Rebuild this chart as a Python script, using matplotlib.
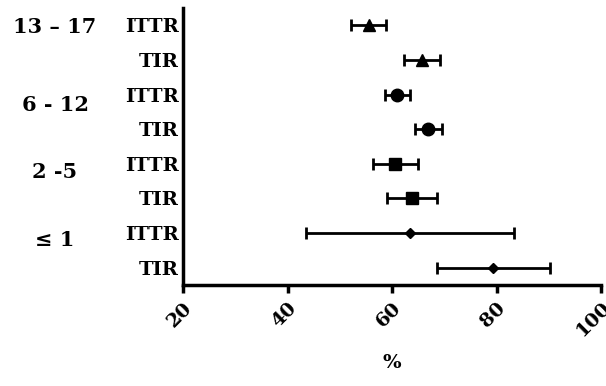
import numpy as np
import matplotlib.pyplot as plt

# rows from top to bottom
row_labels = ["ITTR", "TIR", "ITTR", "TIR", "ITTR", "TIR", "ITTR", "TIR"]
mean = [55.5, 65.7, 61.0, 66.9, 60.5, 63.8, 63.4, 79.3]
lower = [52.2, 62.2, 58.7, 64.4, 56.4, 59.0, 43.5, 68.6]
upper = [58.8, 69.1, 63.5, 69.6, 64.9, 68.6, 83.3, 90.2]
markers = ["^", "^", "o", "o", "s", "s", "D", "D"]
msizes = [8, 8, 9, 9, 8, 8, 5, 5]

groups = ["13 \u2013 17", "6 - 12", "2 -5", "\u2264 1"]
group_pos = [0.05, 2.3, 4.25, 6.2]

xticks = [20, 40, 60, 80, 100]

plt.rcParams['font.family'] = ['DejaVu Serif']
plt.rcParams['font.weight'] = 'bold'

fig = plt.figure(figsize=(6.06, 3.86), dpi=100)
ax = fig.add_axes([0.302, 0.262, 0.690, 0.717])

y = np.arange(len(mean))
for i in range(len(mean)):
    ax.errorbar(mean[i], y[i],
                xerr=[[mean[i] - lower[i]], [upper[i] - mean[i]]],
                fmt=markers[i], color='black', ms=msizes[i],
                ecolor='black', elinewidth=2, capsize=4.5, capthick=2)

ax.set_xlim(20, 100)
ax.set_ylim(7.5, -0.5)
ax.set_xticks(xticks)
ax.set_xticklabels([str(t) for t in xticks], rotation=45, ha='right',
                   rotation_mode='anchor', fontsize=14, fontweight='bold')
ax.set_yticks(y)
ax.set_yticklabels(row_labels, fontsize=14, fontweight='bold')
ax.tick_params(axis='y', length=0, pad=3)
ax.tick_params(axis='x', length=6, width=2.5, direction='out', pad=4)

for s in ['top', 'right']:
    ax.spines[s].set_visible(False)
for s in ['left', 'bottom']:
    ax.spines[s].set_linewidth(2.5)

for g, p in zip(groups, group_pos):
    ax.text(-0.306, p, g, transform=ax.get_yaxis_transform(),
            ha='center', va='center', fontsize=15, fontweight='bold')

ax.set_xlabel("%", fontsize=14, fontweight='bold', labelpad=10)

fig.savefig("out.png", dpi=100)
